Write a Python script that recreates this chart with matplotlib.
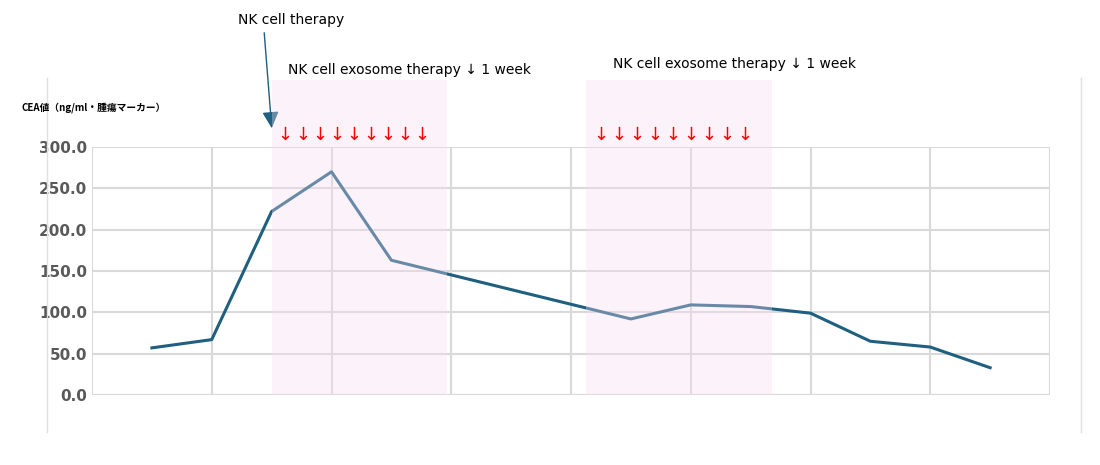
import matplotlib
matplotlib.use("Agg")
import matplotlib.pyplot as plt
from matplotlib.patches import Rectangle
import numpy as np

plt.rcParams['font.family'] = ['Noto Sans CJK JP', 'DejaVu Sans']

x_pos = [0, 1, 2, 3, 4, 8, 9, 10, 11, 12, 13, 14]
cea = [57, 67, 222, 270, 163, 92, 109, 107, 99, 65, 58, 33]
yticks = [0, 50, 100, 150, 200, 250, 300]
shade1 = (2.0, 4.93)
shade2 = (7.25, 10.35)
arrows1 = [2.23 + 0.285 * i for i in range(9)]
arrows2 = [7.5 + 0.3 * i for i in range(9)]

W, H = 1100, 465
fig = plt.figure(figsize=(11, 4.65), dpi=100)
ax = fig.add_axes([92 / W, 1 - 395 / H, (1050 - 92) / W, (395 - 147) / H])
ax.set_xlim(-1, 15)
ax.set_ylim(0, 300)
ax.set_yticks(yticks)
ax.set_yticklabels([f"{v:.1f}" for v in yticks], color='#595959', fontsize=11,
                   fontweight='bold', family='DejaVu Sans')
ax.set_xticks(np.arange(-1, 16, 2))
ax.set_xticklabels([])
ax.tick_params(length=0)
ax.grid(True, color='#d9d9d9', lw=1.5)
for s in ax.spines.values():
    s.set_visible(False)
ax.axhline(0, color='#d9d9d9', lw=1.5)

ax.plot(x_pos, cea, color='#1f5f7f', lw=2.2, zorder=3)
top = 300 + (147 - 80) * 300 / 248
for a, b in (shade1, shade2):
    ax.add_patch(Rectangle((a, 0), b - a, top, color='#f6dcf2', alpha=0.35, zorder=4, clip_on=False, lw=0))
yarr = 300 + (147 - 135) * 300 / 248
for xs in (arrows1, arrows2):
    for xv in xs:
        ax.text(xv, yarr, '↓', color='red', fontsize=13, ha='center', va='center',
                family='DejaVu Sans', zorder=6)

fig.text(288 / W, 1 - 70 / H, 'NK cell exosome therapy ↓ 1 week', fontsize=10, va='center', family='DejaVu Sans')
fig.text(613 / W, 1 - 64 / H, 'NK cell exosome therapy ↓ 1 week', fontsize=10, va='center', family='DejaVu Sans')
fig.text(238 / W, 1 - 20 / H, 'NK cell therapy', fontsize=10, va='center', family='DejaVu Sans')
fig.text(22 / W, 1 - 108 / H, 'CEA値（ng/ml・腫瘍マーカー）', fontsize=7, va='center', fontweight='bold')
ax.annotate('', xy=(272 / W, 1 - 131 / H), xycoords='figure fraction',
            xytext=(264 / W, 1 - 30 / H), textcoords='figure fraction',
            arrowprops=dict(arrowstyle='-|>,head_width=0.5,head_length=1.0', color='#1f5f7f', lw=1))
for xf in (47, 1081):
    fig.add_artist(plt.Line2D([xf / W, xf / W], [1 - 432 / H, 1 - 78 / H], color='#e0e0e0', lw=1))
fig.savefig('out.png')
